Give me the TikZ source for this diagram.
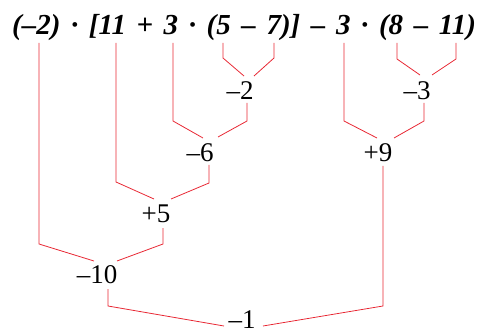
\documentclass[tikz,border=0pt]{standalone}
\usepackage{fontspec}
\setmainfont{Liberation Serif}
\begin{document}
\begin{tikzpicture}[x=1pt,y=-1pt,
  conn/.style={draw={rgb,255:red,232;green,40;blue,52}, line width=0.8pt},
  val/.style={anchor=base, inner sep=0pt, font=\fontsize{27}{27}\selectfont},
  expr/.style={anchor=base west, inner sep=0pt, font=\fontsize{29}{29}\selectfont\bfseries\itshape}]
\useasboundingbox (0,0) rectangle (482,334);
\node[expr] (top) at (12,35) {\spaceskip=10.6pt (–2) · [11 + 3 · (5 – 7)] – 3 · (8 – 11)};
\coordinate (L1) at (39,43);
\coordinate (L2) at (116,43);
\coordinate (L3) at (173,43);
\coordinate (L4) at (223,43);
\coordinate (L5) at (274,43);
\coordinate (L6) at (344,43);
\coordinate (L7) at (397,43);
\coordinate (L8) at (456,43);
\node[val] (n2) at (240,100) {–2};
\node[val] (n3) at (417,100) {–3};
\node[val] (n6) at (200,161) {–6};
\node[val] (n9) at (378,161) {+9};
\node[val] (n5) at (156,222) {+5};
\node[val] (n10) at (97,283) {–10};
\node[val] (n1) at (242,328.5) {–1};
% -2
\draw[conn] (L4) -- (223,58) -- (244,76);
\draw[conn] (L5) -- (274,58) -- (254,76);
% -3
\draw[conn] (L7) -- (397,59) -- (420,75);
\draw[conn] (L8) -- (456,59) -- (432,75);
% -6
\draw[conn] (247,103) -- (247,121) -- (218,137);
\draw[conn] (L3) -- (173,121) -- (203,138);
% +9
\draw[conn] (424,103) -- (424,121) -- (394,138);
\draw[conn] (L6) -- (344,121) -- (377,138);
% +5
\draw[conn] (209,165) -- (209,183) -- (171,199);
\draw[conn] (L2) -- (116,182) -- (154,199);
% -10
\draw[conn] (163,228) -- (163,244) -- (117,261);
\draw[conn] (L1) -- (39,244) -- (94,261);
% -1
\draw[conn] (108,289) -- (108,306) -- (224,326);
\draw[conn] (383,166) -- (383,306) -- (263,326);
\end{tikzpicture}
\end{document}
